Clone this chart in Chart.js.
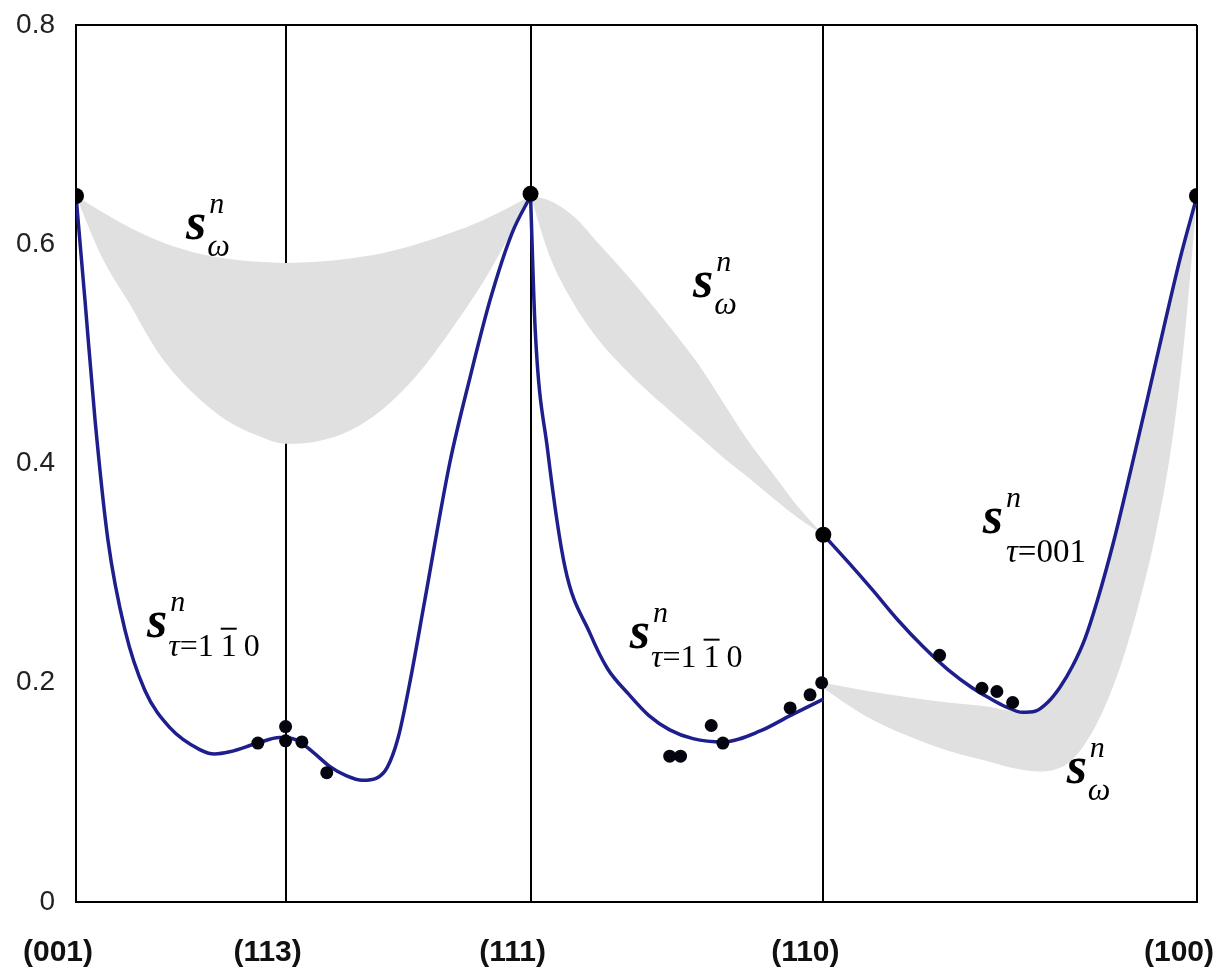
<!DOCTYPE html>
<html>
<head>
<meta charset="utf-8">
<script src="https://cdn.jsdelivr.net/npm/chart.js@4.4.1/dist/chart.umd.min.js"></script>
<style>
html, body { margin: 0; padding: 0; background: #fff; }
#wrap { width: 1223px; height: 976px; }
</style>
</head>
<body>
<div id="wrap"><canvas id="canvas"></canvas></div>
<script>
////////////////////////// data //////////////////////////
// x = position along the (001)-(113)-(111)-(110)-(100) path, degrees
var dirTicks  = [0, 25.24, 54.74, 90, 135];
var dirLabels = ['(001)', '(113)', '(111)', '(110)', '(100)'];
var yTicks    = [0, 0.2, 0.4, 0.6, 0.8];

// blue curve, three pieces
var curve1X = [0, 1.08, 2.29, 3.85, 5.9, 8.3, 11.3, 14.9, 16.7, 18.5, 21.9, 24.5, 26.5, 28.5, 30.5, 32.6, 34.5, 36.2, 37.5, 38.8, 40.2, 42, 45, 47.5, 49.9, 52.5, 54.74];
var curve1Y = [0.644, 0.549, 0.44, 0.33, 0.248, 0.193, 0.159, 0.139, 0.135, 0.137, 0.145, 0.150, 0.148, 0.137, 0.124, 0.115, 0.111, 0.113, 0.123, 0.150, 0.2, 0.275, 0.40, 0.48, 0.55, 0.61, 0.644];
var curve2X = [54.74, 55.3, 56.8, 58.9, 61.9, 64, 66.5, 69, 71.5, 74.3, 77.9, 82.4, 86, 90];
var curve2Y = [0.644, 0.522, 0.412, 0.305, 0.245, 0.213, 0.190, 0.170, 0.157, 0.149, 0.146, 0.156, 0.170, 0.185];
var curve3X = [90, 93, 96, 99, 102, 105, 108, 110, 112, 114, 115.5, 117, 118.5, 120, 121.5, 123, 125, 127, 129, 131, 133, 135];
var curve3Y = [0.335, 0.310, 0.284, 0.257, 0.233, 0.212, 0.195, 0.186, 0.178, 0.173, 0.174, 0.182, 0.196, 0.215, 0.240, 0.275, 0.330, 0.393, 0.458, 0.524, 0.588, 0.644];

// measured points
var pointsX = [21.9, 25.24, 25.24, 27.2, 30.2, 71.5, 72.8, 76.5, 77.9, 86, 88.4, 89.8, 104, 109.1, 110.9, 112.8];
var pointsY = [0.145, 0.160, 0.147, 0.146, 0.118, 0.133, 0.133, 0.161, 0.145, 0.177, 0.189, 0.200, 0.225, 0.195, 0.192, 0.182];
// end points of the path
var nodesX = [0, 54.74, 90, 135];
var nodesY = [0.644, 0.646, 0.335, 0.644];

// grey bands (upper / lower edges)
var band1X     = [0, 3, 6.5, 10, 14, 18, 22, 25.24, 29, 33, 37, 41, 45, 49, 52, 54.74];
var band1Upper = [0.644, 0.630, 0.615, 0.603, 0.593, 0.587, 0.584, 0.583, 0.584, 0.587, 0.592, 0.600, 0.610, 0.622, 0.633, 0.644];
var band1Lower = [0.644, 0.590, 0.545, 0.500, 0.465, 0.440, 0.425, 0.418, 0.420, 0.430, 0.450, 0.480, 0.520, 0.565, 0.605, 0.644];
var band2X     = [54.74, 57, 60, 63, 66, 69, 72, 75, 78, 81, 84, 87, 90];
var band2Upper = [0.644, 0.640, 0.625, 0.600, 0.575, 0.548, 0.520, 0.490, 0.455, 0.420, 0.390, 0.360, 0.335];
var band2Lower = [0.644, 0.590, 0.545, 0.512, 0.487, 0.465, 0.445, 0.425, 0.405, 0.387, 0.368, 0.350, 0.335];
var band3X     = [90, 95, 100, 105, 110, 113, 116, 118, 120, 122, 124, 126, 128, 130, 132, 133.5, 135];
var band3Upper = [0.200, 0.193, 0.187, 0.182, 0.178, 0.174, 0.176, 0.190, 0.215, 0.255, 0.305, 0.362, 0.425, 0.491, 0.556, 0.604, 0.644];
var band3Lower = [0.195, 0.170, 0.152, 0.138, 0.128, 0.122, 0.119, 0.121, 0.130, 0.150, 0.180, 0.220, 0.272, 0.335, 0.420, 0.515, 0.644];

function xy(xs, ys){
    var out = [];
    for(var i = 0; i < xs.length; i++){
        out.push({x: xs[i], y: ys[i]});
    }
    return out;
}

////////////////////////// labels //////////////////////////
var mathLabels = [
    {x: 13.25, y: 0.605, sup: 'n', sub: 'ω'},
    {x: 74.3,  y: 0.552, sup: 'n', sub: 'ω'},
    {x: 8.55,  y: 0.242, sup: 'n', sub: 'tau110'},
    {x: 66.7,  y: 0.232, sup: 'n', sub: 'tau110'},
    {x: 109.2, y: 0.337, sup: 'n', sub: 'τ=001'},
    {x: 119.3, y: 0.109, sup: 'n', sub: 'ω'}
];

var mathLabelPlugin = {
    id: 'mathLabels',
    afterDatasetsDraw: function(chart){
        var c = chart.ctx;
        var xs = chart.scales.x, ys = chart.scales.y;
        c.save();
        c.fillStyle = '#000';
        c.textBaseline = 'alphabetic';
        c.textAlign = 'left';
        mathLabels.forEach(function(l){
            var px = xs.getPixelForValue(l.x);
            var py = ys.getPixelForValue(l.y);
            c.font = 'italic bold 52px "Liberation Serif"';
            c.fillText('s', px, py);
            var w = c.measureText('s').width;
            c.font = 'italic 30px "Liberation Serif"';
            c.fillText(l.sup, px + w + 3, py - 26);
            var sx = px + w + 1, sy = py + 19;
            if(l.sub === 'tau110'){
                c.font = 'italic 32px "Liberation Serif"';
                c.fillText('τ', sx, sy);
                sx += c.measureText('τ').width;
                c.font = '32px "Liberation Serif"';
                c.fillText('=1', sx, sy);
                sx += c.measureText('=1').width + 7;
                var w1 = c.measureText('1').width;
                c.fillText('1', sx, sy);
                c.fillRect(sx, sy - 28, w1, 2);
                sx += w1 + 7;
                c.fillText('0', sx, sy);
            } else if(l.sub === 'τ=001'){
                c.font = 'italic 33px "Liberation Serif"';
                c.fillText('τ', sx + 2, sy + 10);
                sx += c.measureText('τ').width + 2;
                c.font = '33px "Liberation Serif"';
                c.fillText('=001', sx, sy + 10);
            } else {
                c.font = 'italic 32px "Liberation Serif"';
                c.fillText(l.sub, sx, sy - 2);
            }
        });
        c.restore();
    }
};

////////////////////////// chart //////////////////////////
var lineColor = '#1e1e8c';
var bandColor = '#e0e0e0';

function bandSets(xs, up, lo){
    return [
        {data: xy(xs, up), showLine: true, borderWidth: 0, pointRadius: 0, fill: '+1', backgroundColor: bandColor,
         cubicInterpolationMode: 'monotone', order: 3},
        {data: xy(xs, lo), showLine: true, borderWidth: 0, pointRadius: 0, fill: false,
         cubicInterpolationMode: 'monotone', order: 3}
    ];
}

function curveSet(xs, ys){
    return {data: xy(xs, ys), showLine: true, borderColor: lineColor, borderWidth: 3.5,
            pointRadius: 0, cubicInterpolationMode: 'monotone', fill: false, order: 2};
}

var datasets = []
    .concat(bandSets(band1X, band1Upper, band1Lower))
    .concat(bandSets(band2X, band2Upper, band2Lower))
    .concat(bandSets(band3X, band3Upper, band3Lower));
datasets.push(curveSet(curve1X, curve1Y));
datasets.push(curveSet(curve2X, curve2Y));
datasets.push(curveSet(curve3X, curve3Y));
datasets.push({data: xy(pointsX, pointsY), showLine: false, pointRadius: 6.5,
               pointBackgroundColor: '#050510', pointBorderWidth: 0, order: 1});
datasets.push({data: xy(nodesX, nodesY), showLine: false, pointRadius: 8,
               pointBackgroundColor: '#000', pointBorderWidth: 0, order: 0});

new Chart(document.getElementById('canvas').getContext('2d'), {
    type: 'scatter',
    data: {datasets: datasets},
    options: {
        responsive: true,
        maintainAspectRatio: false,
        animation: false,
        layout: {padding: {top: 25, right: 26, left: 0, bottom: 0}},
        plugins: {legend: {display: false}, tooltip: {enabled: false}},
        scales: {
            x: {
                type: 'linear', min: 0, max: 135, z: 1,
                afterBuildTicks: function(s){ s.ticks = dirTicks.map(function(v){ return {value: v}; }); },
                afterFit: function(s){ s.height = 74; s.paddingLeft = 0; s.paddingRight = 0; },
                grid: {color: '#000', lineWidth: 2, drawTicks: false},
                border: {display: true, color: '#000', width: 2},
                ticks: {
                    autoSkip: false, maxRotation: 0, padding: 33, labelOffset: -18,
                    color: '#111', font: {family: '"Liberation Sans"', size: 30, weight: 'bold'},
                    callback: function(v, i){ return dirLabels[i]; }
                }
            },
            y: {
                type: 'linear', min: 0, max: 0.8,
                afterBuildTicks: function(s){ s.ticks = yTicks.map(function(v){ return {value: v}; }); },
                afterFit: function(s){ s.width = 76; s.paddingTop = 0; s.paddingBottom = 0; },
                grid: {
                    drawTicks: false, lineWidth: 2,
                    color: function(ctx){ return (ctx.tick && Math.abs(ctx.tick.value - 0.8) < 1e-6) ? '#000' : 'rgba(0,0,0,0)'; }
                },
                border: {display: true, color: '#000', width: 2},
                ticks: {
                    padding: 21, color: '#222',
                    font: {family: '"Liberation Sans"', size: 28},
                    callback: function(v){ return v === 0 ? '0' : v.toFixed(1); }
                }
            }
        }
    },
    plugins: [mathLabelPlugin]
});
</script>
</body>
</html>
